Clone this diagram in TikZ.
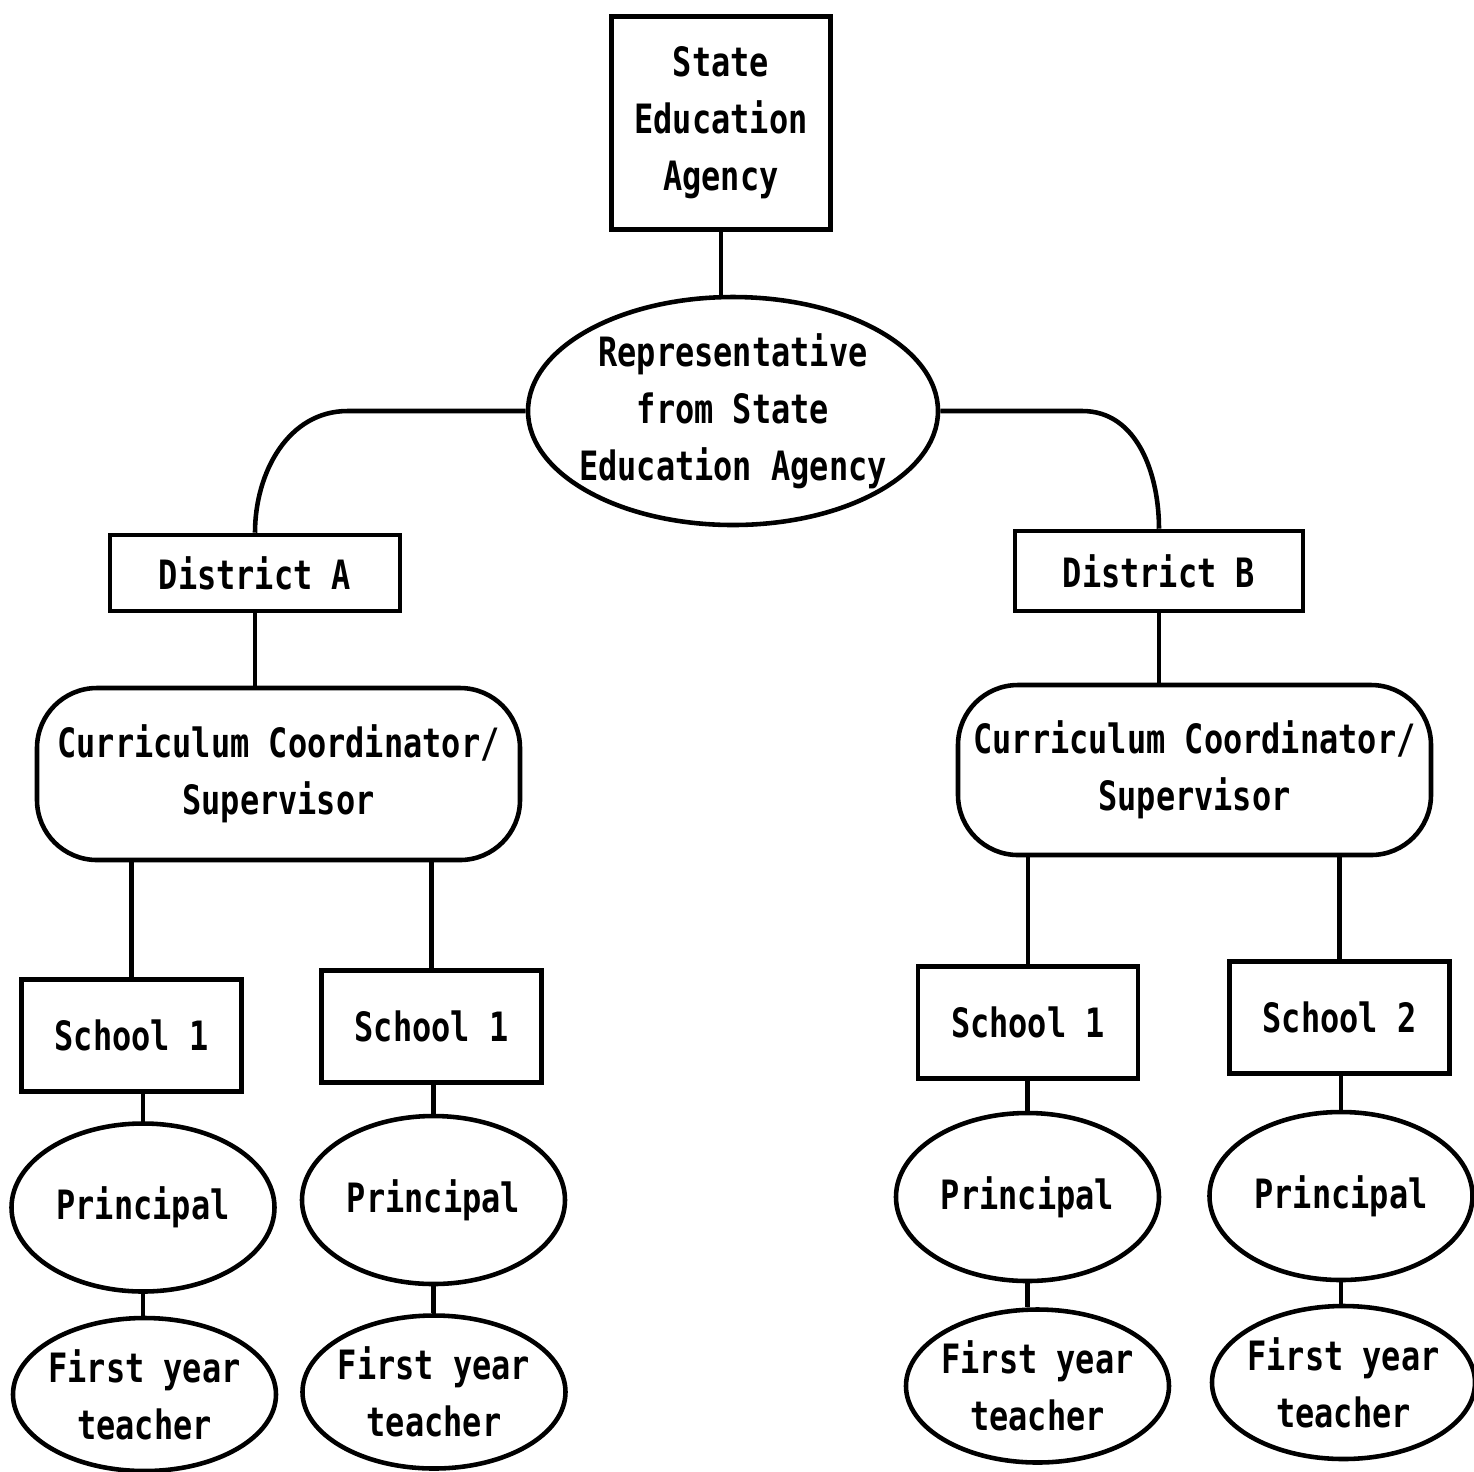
\documentclass[tikz,border=0pt]{standalone}
\usepackage{fontspec}
\newfontfamily\chartfont[FakeStretch=0.79]{DejaVu Sans Mono}
\usepackage{tikz}
\usetikzlibrary{shapes.geometric}
\usetikzlibrary{calc}
\tikzstyle{box}=[rectangle,draw,line width=1.3pt,inner sep=0pt,align=center]
\tikzstyle{oval}=[ellipse,draw,line width=1.3pt,inner sep=-0.2cm,align=center]
\tikzstyle{pill}=[rectangle,draw,line width=1.3pt,rounded corners=0.6cm,inner sep=0pt,align=center]
\tikzstyle{school}=[box,minimum width=2.2cm,minimum height=1.12cm]
\tikzstyle{principal}=[oval,minimum width=2.63cm,minimum height=1.68cm]
\tikzstyle{teacher}=[oval,minimum width=2.63cm,minimum height=1.53cm]
\tikzstyle{link} = [draw,line width=1.3pt]
\tikzset{every node/.append style={font=\chartfont\bfseries\fontsize{11.5}{16.2}\selectfont}}

\begin{document}
\begin{tikzpicture}
    \useasboundingbox (0,0) rectangle (14.74,-14.71);

    \node[box,minimum width=2.19cm,minimum height=2.13cm] (sea) at (7.21,-1.23) {State\\Education\\Agency};
    \node[oval,minimum width=4.10cm,minimum height=2.28cm] (rep) at (7.33,-4.11) {Representative\\from State\\Education Agency};

    \node[box,minimum width=2.90cm,minimum height=0.76cm] (distA) at (2.55,-5.73) {District A};
    \node[box,minimum width=2.88cm,minimum height=0.80cm] (distB) at (11.59,-5.71) {District B};

    \node[pill,minimum width=4.83cm,minimum height=1.72cm] (curA) at (2.785,-7.74) {Curriculum Coordinator/\\Supervisor};
    \node[pill,minimum width=4.73cm,minimum height=1.70cm] (curB) at (11.945,-7.70) {Curriculum Coordinator/\\Supervisor};

    \foreach \pos/ \name/ \num in {{(1.315,-10.355)/schA1/1}, {(4.315,-10.265)/schA2/1}, {(10.28,-10.225)/schB1/1}, {(13.395,-10.175)/schB2/2}}
        \node[school] (\name) at \pos {School \num};

    \foreach \pos/ \name in {{(1.43,-12.075)/prA1}, {(4.335,-12.0)/prA2}, {(10.275,-11.97)/prB1}, {(13.41,-11.96)/prB2}}
        \node[principal] (\name) at \pos {Principal};

    \foreach \pos/ \name in {{(1.445,-13.945)/tA1}, {(4.34,-13.92)/tA2}, {(10.375,-13.86)/tB1}, {(13.435,-13.825)/tB2}}
        \node[teacher] (\name) at \pos {First year\\teacher};

    % links hanging straight down from the upper node
    \foreach \up/ \down in {sea/rep, distA/curA, distB/curB, prA1/tA1, prA2/tA2, prB1/tB1, prB2/tB2}
        \path[link] (\up.south) -- (\up.south |- \down.north);

    % links dropping straight onto the lower node
    \foreach \up/ \down in {curA/schA1, curA/schA2, curB/schB1, curB/schB2, schA1/prA1, schA2/prA2, schB1/prB1, schB2/prB2}
        \path[link] (\down.north |- \up.south) -- (\down.north);

    \path[link] (rep.west) -- ++(-1.78,0) to[out=180,in=90] (distA.north);
    \path[link] (rep.east) -- ++(1.42,0) to[out=0,in=90] (distB.north);

\end{tikzpicture}
\end{document}
